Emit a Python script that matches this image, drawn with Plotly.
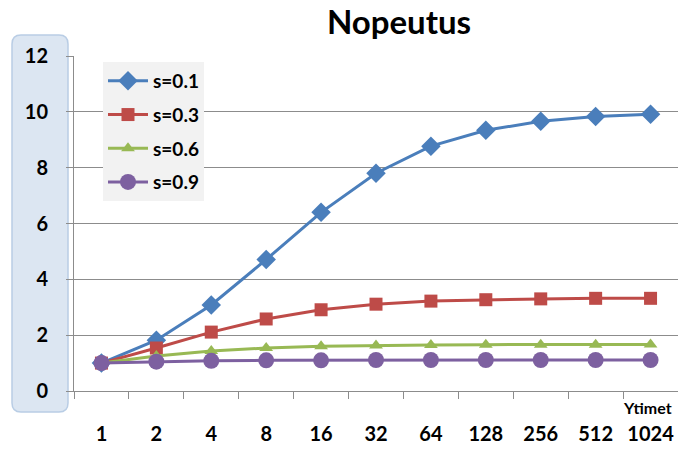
import plotly.graph_objects as go

# Processor counts (category axis) and speedup per serial fraction s
ytimet = ["1", "2", "4", "8", "16", "32", "64", "128", "256", "512", "1024"]
s01 = [1.00, 1.82, 3.08, 4.71, 6.40, 7.80, 8.77, 9.34, 9.66, 9.83, 9.91]
s03 = [1.00, 1.54, 2.11, 2.58, 2.91, 3.11, 3.22, 3.27, 3.30, 3.32, 3.32]
s06 = [1.00, 1.25, 1.43, 1.54, 1.60, 1.63, 1.65, 1.66, 1.66, 1.66, 1.67]
s09 = [1.00, 1.05, 1.08, 1.10, 1.10, 1.11, 1.11, 1.11, 1.11, 1.11, 1.11]

W, H = 678, 450
ML, MR, MT, MB = 74, 0, 56, 59
PW, PH = W - ML - MR, H - MT - MB

FONT = "Lato"
GRID = "#8c8c8c"

series = [
    ("s=0.1", s01, "#4a7ebb", "diamond", 15),
    ("s=0.3", s03, "#be4b48", "square", 13),
    ("s=0.6", s06, "#98b954", "triangle-up", 12),
    ("s=0.9", s09, "#7d60a0", "circle", 16),
]

fig = go.Figure()
for name, vals, col, sym, sz in series:
    fig.add_trace(go.Scatter(
        x=ytimet, y=vals, name=name, legendgroup=name,
        mode="lines+markers",
        line=dict(color=col, width=3),
        marker=dict(symbol=sym, size=sz, color=col),
    ))


def px_x(p):
    return (p - ML) / PW


def px_y(p):
    return (H - MB - p) / PH


# rounded panel behind the value-axis labels
x0, x1, y0, y1, r = 12, 68, 35, 412, 9
path = (
    f"M {px_x(x0 + r)} {px_y(y0)} L {px_x(x1 - r)} {px_y(y0)} "
    f"Q {px_x(x1)} {px_y(y0)} {px_x(x1)} {px_y(y0 + r)} "
    f"L {px_x(x1)} {px_y(y1 - r)} "
    f"Q {px_x(x1)} {px_y(y1)} {px_x(x1 - r)} {px_y(y1)} "
    f"L {px_x(x0 + r)} {px_y(y1)} "
    f"Q {px_x(x0)} {px_y(y1)} {px_x(x0)} {px_y(y1 - r)} "
    f"L {px_x(x0)} {px_y(y0 + r)} "
    f"Q {px_x(x0)} {px_y(y0)} {px_x(x0 + r)} {px_y(y0)} Z"
)
fig.add_shape(type="path", path=path, xref="paper", yref="paper",
              fillcolor="#dce6f2", line=dict(color="#b9cde5", width=1.5),
              layer="below")

tickfont = dict(size=20, family=FONT, color="#000000", weight="bold")

fig.update_layout(
    width=W, height=H,
    margin=dict(l=ML, r=MR, t=MT, b=MB, autoexpand=False),
    paper_bgcolor="white", plot_bgcolor="white",
    font=dict(family=FONT, color="#000000"),
    title=dict(text="<b>Nopeutus</b>", x=399 / W, xanchor="center",
               y=1 - 22 / H, yanchor="middle",
               font=dict(size=33, family=FONT, color="#000000")),
    showlegend=True,
    legend=dict(x=px_x(103), y=px_y(62), xanchor="left", yanchor="top",
                bgcolor="#f2f2f2", borderwidth=0,
                font=dict(size=19, family=FONT, color="#000000",
                          weight="bold"),
                itemwidth=40, tracegroupgap=6),
    xaxis=dict(
        type="category", range=[-0.5, 10.5], automargin=False,
        showgrid=False, zeroline=False,
        showline=True, linecolor=GRID, linewidth=1,
        ticks="outside", ticklen=7, tickcolor=GRID, tickson="boundaries",
        tickfont=tickfont, tickangle=0,
        ticklabelstandoff=25,
    ),
    yaxis=dict(
        range=[0, 12], dtick=2, tick0=0, automargin=False,
        showgrid=True, gridcolor=GRID, gridwidth=1,
        zeroline=False,
        showline=True, linecolor=GRID, linewidth=1,
        ticks="outside", ticklen=7, tickcolor=GRID,
        tickfont=tickfont,
        ticklabelstandoff=14,
    ),
)

fig.add_annotation(text="<b>Ytimet</b>", xref="paper", yref="paper",
                   x=px_x(673), y=px_y(418), xanchor="right", yanchor="bottom",
                   showarrow=False, borderpad=0,
                   font=dict(size=16, family=FONT, color="#000000"))

fig.write_html("out.html")
